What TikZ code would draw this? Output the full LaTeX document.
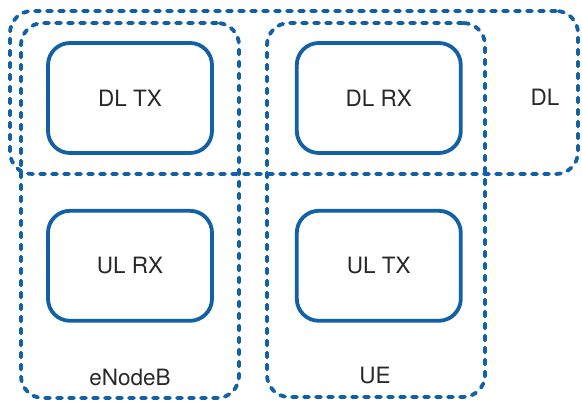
\documentclass[tikz,border=0pt]{standalone}
\usepackage{fontspec}
\setmainfont{TeX Gyre Heros}
\usepackage{xcolor}
\usepackage{tikz}
\usetikzlibrary{positioning}
\definecolor{lteblue}{RGB}{18,96,166}
\definecolor{ltetext}{RGB}{40,40,40}

\begin{document}
\begin{tikzpicture}[
  x=1pt, y=1pt,
  unit/.style={draw=lteblue, line width=3.8pt, rectangle, rounded corners=22pt, minimum width=164pt, minimum height=110pt, text=ltetext, font=\fontsize{22.5}{26}\selectfont},
  group/.style={draw=lteblue, line width=3.8pt, rectangle, rounded corners=22pt, dash pattern=on 5pt off 7pt, line cap=round},
  tag/.style={text=ltetext, font=\fontsize{22.5}{26}\selectfont},
  node distance=54pt and 81pt
]
\useasboundingbox (0,0) rectangle (582,403);

% dashed groups
\node[group, minimum width=568pt, minimum height=163pt] (dl) at (294,310.5) {};
\node[group, minimum width=218pt, minimum height=375pt] (enb) at (130,192.5) {};
\node[group, minimum width=218pt, minimum height=374pt] (ue) at (376,193) {};

% units
\node[unit] (dltx) at (130,305) {DL TX};
\node[unit, right=of dltx] (dlrx) {DL RX};
\node[unit, below=of dltx] (ulrx) {UL RX};
\node[unit, below=of dlrx] (ultx) {UL TX};

% labels
\node[tag] (dllabel) at (545,306) {DL};
\node[tag] (enblabel) at (130,26) {eNodeB};
\node[tag] (uelabel) at (375,27) {UE};
\end{tikzpicture}
\end{document}
